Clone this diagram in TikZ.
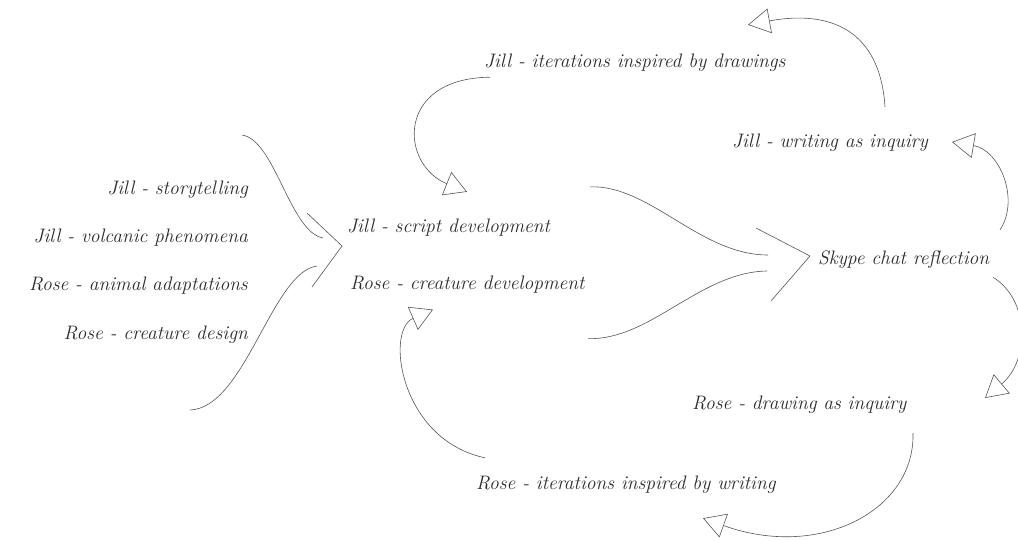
\documentclass[tikz,border=0pt]{standalone}
\usetikzlibrary{arrows.meta, positioning, calc}
\definecolor{ink}{HTML}{2A2A2A}
\definecolor{pencil}{HTML}{555555}

\begin{document}
\begin{tikzpicture}[
  x=1pt, y=-1pt,
  idea/.style={font=\itshape\fontsize{19.5}{23}\selectfont, text=ink,
               inner sep=2pt, text height=14pt, text depth=6pt},
  strand/.style={draw=pencil, line width=0.6pt},
  loop/.style={strand, -{Triangle[open, length=22pt, width=25pt, line width=0.6pt]}},
  node distance=24pt and 0pt
]
  \useasboundingbox (0,0) rectangle (1018,541);
  % sources
  \node[idea, anchor=east] (story) at (250,190) {Jill - storytelling};
  \node[idea, below left=of story.south east]  (volc)   {Jill - volcanic phenomena};
  \node[idea, below left=of volc.south east]   (adapt)  {Rose - animal adaptations};
  \node[idea, below left=of adapt.south east]  (design) {Rose - creature design};
  % development and reflection
  \node[idea, anchor=west] (script) at (345,228) {Jill - script development};
  \node[idea, below right=33pt and 3pt of script.south west] (creat) {Rose - creature development};
  \node[idea, anchor=west] (skype) at (816,260) {Skype chat reflection};
  % inquiry loops
  \node[idea, anchor=west] (itdraw)  at (482,63)  {Jill - iterations inspired by drawings};
  \node[idea, anchor=west] (wrinq)   at (730,143) {Jill - writing as inquiry};
  \node[idea, anchor=west] (drinq)   at (690,405) {Rose - drawing as inquiry};
  \node[idea, anchor=west] (itwrite) at (474,485) {Rose - iterations inspired by writing};

  \coordinate (topL) at (242,135);
  \coordinate (botL) at (190,410);
  \coordinate (tipL) at (342,246);
  \coordinate (tipM) at (810,256);

  % gathering brace into development
  \draw[strand] (topL) .. controls +(33,5) and +(-33,-6) .. ($(tipL)+(-19,-8)$);
  \draw[strand] (botL) .. controls +(55,-2) and +(-45,6) .. ($(tipL)+(-25,20)$);
  \draw[strand] ($(tipL)+(-35,-33)$) -- (tipL) -- ($(tipL)+(-30,41)$);

  % development into reflection
  \draw[strand] ([shift={(245pt,29pt)}]script.north west) .. controls +(60,-2) and +(-68,0) .. ($(tipM)+(-42,-1)$);
  \draw[strand] ([shift={(240pt,-41pt)}]creat.south west) .. controls +(62,2) and +(-67,1) .. ($(tipM)+(-43,15)$);
  \draw[strand] ($(tipM)+(-54,-28)$) -- (tipM) -- ($(tipM)+(-39,45)$);

  % loops
  \draw[loop] ([shift={(8pt,-2pt)}]itdraw.south west) .. controls +(-95,1) and +(-67,-27) .. ([shift={(122pt,24pt)}]script.north west);
  \draw[loop] ([shift={(184pt,18pt)}]skype.north west) .. controls +(20,-30) and +(48,8) .. ([shift={(222pt,1pt)}]wrinq.west);
  \draw[loop] ([shift={(155pt,24pt)}]wrinq.north west) .. controls +(-5,-77) and +(82,-15) .. ([shift={(266pt,26pt)}]itdraw.north west);
  \draw[loop] ([shift={(177pt,-5pt)}]skype.south west) .. controls +(37,23) and +(45,-38) .. ([shift={(295pt,7pt)}]drinq.west);
  \draw[loop] ([shift={(223pt,-16pt)}]drinq.south west) .. controls +(2,77) and +(117,42) .. ([shift={(229pt,-21pt)}]itwrite.south west);
  \draw[loop] ([shift={(11pt,15pt)}]itwrite.north west) .. controls +(-85,-18) and +(-48,21) .. ([shift={(85pt,-12pt)}]creat.south west);
\end{tikzpicture}
\end{document}
